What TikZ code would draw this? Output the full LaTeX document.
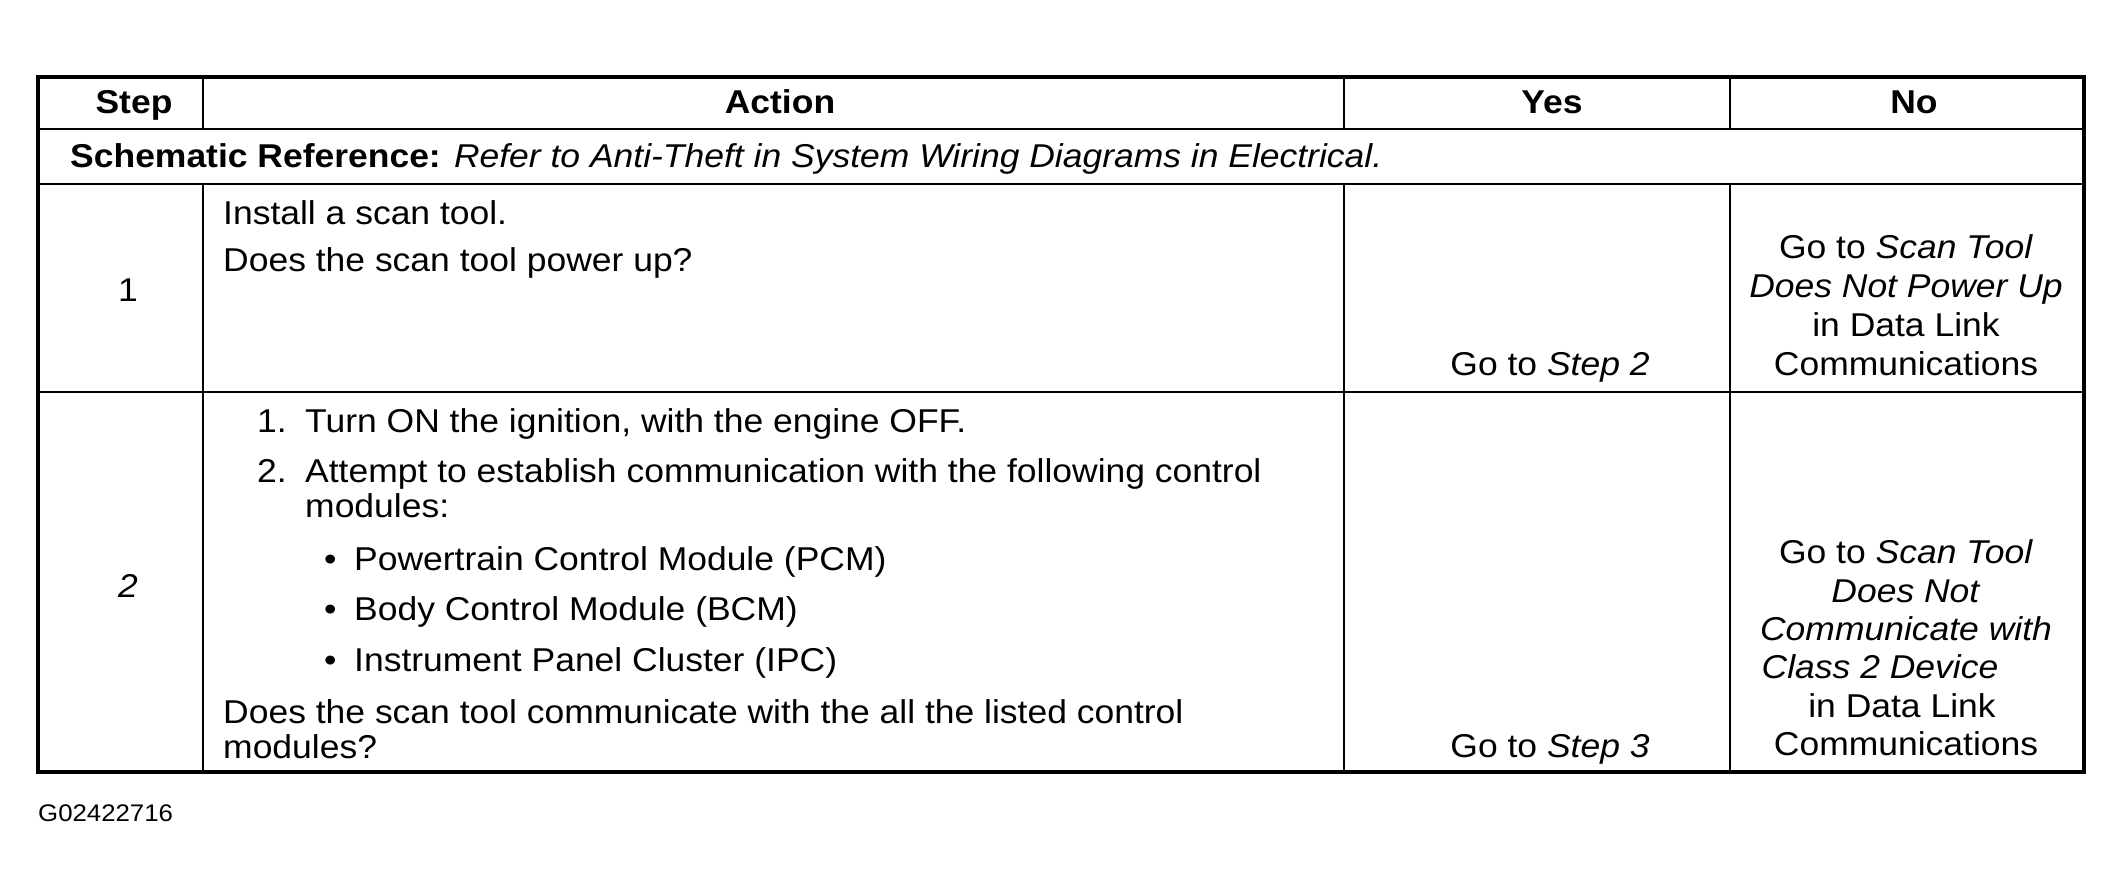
\documentclass[tikz,border=0pt]{standalone}
\usepackage{fontspec}
\setmainfont{Liberation Sans}[FakeStretch=1.075]
\newcommand\fsz{\fontsize{33}{38.7}\selectfont}
\newcommand\gsz{\fontsize{24}{28}\selectfont}
\begin{document}
\begin{tikzpicture}[x=1pt,y=-1pt,
  txt/.style={inner sep=0pt, font=\fsz},
  hd/.style={inner sep=0pt, font=\fsz\bfseries, anchor=base},
  cl/.style={txt, anchor=base},
  lt/.style={txt, anchor=base west},
  outer/.style={line width=3.8pt, line cap=rect},
  inner/.style={line width=2.8pt}]
\fill[white] (0,0) rectangle (2124,894);
\useasboundingbox (0,0) rectangle (2124,894);
% grid
\draw[inner] (38,129) -- (2084,129);
\draw[inner] (38,184) -- (2084,184);
\draw[inner] (38,392) -- (2084,392);
\draw[inner] (203,77) -- (203,129);
\draw[inner] (1344,77) -- (1344,129);
\draw[inner] (1730,77) -- (1730,129);
\draw[inner] (203,184) -- (203,772);
\draw[inner] (1344,184) -- (1344,772);
\draw[inner] (1730,184) -- (1730,772);
\draw[outer] (38,77) rectangle (2084,772);
% header
\node[hd] (hstep) at (134,113) {Step};
\node[hd] (hact) at (780,113) {Action};
\node[hd] (hyes) at (1552,113) {Yes};
\node[hd] (hno) at (1914,113) {No};
% schematic reference
\node[lt] (schem) at (70,167) {\textbf{Schematic Reference:} \textit{Refer to Anti-Theft in System Wiring Diagrams in Electrical.}};
% row 1
\node[cl] (s1) at (128,301) {1};
\node[lt] (a1a) at (223,224) {Install a scan tool.};
\node[lt] (a1b) at (223,271) {Does the scan tool power up?};
\node[cl] (y1) at (1550,375) {Go to \textit{Step 2}};
\node[cl] (n1a) at (1906,258) {Go to \textit{Scan Tool}};
\node[cl] (n1b) at (1906,297) {\textit{Does Not Power Up}};
\node[cl] (n1c) at (1906,336) {in Data Link};
\node[cl] (n1d) at (1906,375) {Communications};
% row 2
\node[cl] (s2) at (128,597) {\textit{2}};
\node[lt] (a2n1) at (257,432) {1.};
\node[lt] (a2t1) at (305,432) {Turn ON the ignition, with the engine OFF.};
\node[lt] (a2n2) at (257,482) {2.};
\node[lt] (a2t2) at (305,482) {Attempt to establish communication with the following control};
\node[lt] (a2t2b) at (305,517) {modules:};
\node[lt] (b1) at (324,570) {\textbullet};
\node[lt] (b1t) at (354,570) {Powertrain Control Module (PCM)};
\node[lt] (b2) at (324,620) {\textbullet};
\node[lt] (b2t) at (354,620) {Body Control Module (BCM)};
\node[lt] (b3) at (324,671) {\textbullet};
\node[lt] (b3t) at (354,671) {Instrument Panel Cluster (IPC)};
\node[lt] (a2q) at (223,723) {Does the scan tool communicate with the all the listed control};
\node[lt] (a2qb) at (223,758) {modules?};
\node[cl] (y2) at (1550,757) {Go to \textit{Step 3}};
\node[cl] (n2a) at (1906,563) {Go to \textit{Scan Tool}};
\node[cl] (n2b) at (1906,602) {\textit{Does Not}};
\node[cl] (n2c) at (1906,640) {\textit{Communicate with}};
\node[cl] (n2d) at (1880,678) {\textit{Class 2 Device}};
\node[cl] (n2e) at (1902,717) {in Data Link};
\node[cl] (n2f) at (1906,755) {Communications};
% figure id
\node[inner sep=0pt, font=\gsz, anchor=base west] (gid) at (38,821) {G02422716};
\end{tikzpicture}
\end{document}
